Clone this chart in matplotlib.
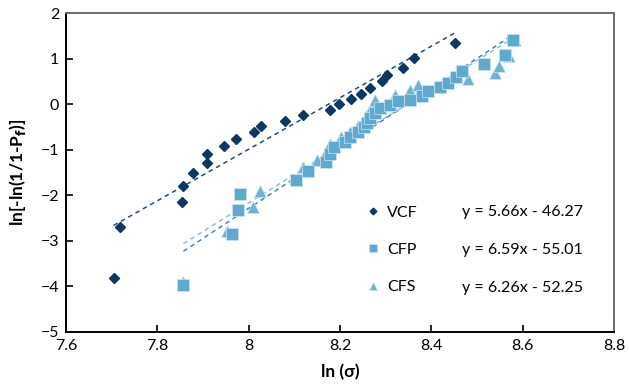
import matplotlib
matplotlib.use("Agg")
import matplotlib.pyplot as plt
import numpy as np

plt.rcParams['font.family'] = ['Lato', 'DejaVu Sans']

# ---- data ----
vcf_x = [7.704, 7.719, 7.854, 7.857, 7.879, 7.909, 7.909, 7.947, 7.972, 8.012, 8.027,
         8.080, 8.120, 8.178, 8.198, 8.224, 8.247, 8.265, 8.292, 8.302, 8.339, 8.362, 8.453]
vcf_y = [-3.82, -2.70, -2.15, -1.79, -1.52, -1.30, -1.09, -0.92, -0.76, -0.62, -0.48,
         -0.36, -0.24, -0.13, 0.00, 0.12, 0.23, 0.36, 0.50, 0.64, 0.80, 1.01, 1.35]

cfp_x = [7.857, 7.964, 7.976, 7.980, 8.104, 8.131, 8.169, 8.178, 8.187, 8.211, 8.221,
         8.240, 8.252, 8.259, 8.266, 8.277, 8.288, 8.310, 8.328, 8.354, 8.379, 8.392,
         8.419, 8.437, 8.454, 8.468, 8.516, 8.562, 8.580]
cfp_y = [-3.98, -2.86, -2.32, -1.97, -1.66, -1.46, -1.28, -1.10, -0.93, -0.82, -0.72,
         -0.60, -0.50, -0.42, -0.31, -0.20, -0.09, -0.02, 0.06, 0.09, 0.17, 0.28,
         0.37, 0.47, 0.59, 0.73, 0.88, 1.08, 1.40]

cfs_x = [7.857, 7.953, 8.010, 8.025, 8.118, 8.149, 8.169, 8.178, 8.202, 8.222, 8.240,
         8.252, 8.259, 8.265, 8.270, 8.277, 8.321, 8.354, 8.370, 8.480, 8.540, 8.549,
         8.571, 8.584]
cfs_y = [-3.90, -2.79, -2.26, -1.91, -1.39, -1.23, -1.04, -0.88, -0.73, -0.60, -0.47,
         -0.35, -0.24, -0.13, -0.03, 0.09, 0.20, 0.31, 0.42, 0.55, 0.68, 0.84,
         1.06, 1.41]

series_names = ['VCF', 'CFP', 'CFS']
slopes = [5.66, 6.59, 6.26]
intercepts = [-46.27, -55.01, -52.25]
equations = ['y = 5.66x - 46.27', 'y = 6.59x - 55.01', 'y = 6.26x - 52.25']

x_ticks = [7.6, 7.8, 8.0, 8.2, 8.4, 8.6, 8.8]
x_ticklabels = ['7.6', '7.8', '8', '8.2', '8.4', '8.6', '8.8']
y_ticks = [-5, -4, -3, -2, -1, 0, 1, 2]

# ---- style ----
c_vcf = '#0b3764'
c_cfp = '#5ea9cf'
c_cfs = '#6cb1d6'
c_tr_vcf = '#1f4e79'
c_tr_cfp = '#3f86bd'
c_tr_cfs = '#86c0e0'

fig = plt.figure(figsize=(6.29, 3.88), dpi=100)
ax = fig.add_axes([0.105, 0.145, 0.871, 0.821])

# trendlines
data = [(vcf_x, vcf_y), (cfp_x, cfp_y), (cfs_x, cfs_y)]
tr_cols = [c_tr_vcf, c_tr_cfp, c_tr_cfs]
for (xs, ys), m, b, col in zip(data, slopes, intercepts, tr_cols):
    xx = np.array([min(xs), max(xs)])
    ax.plot(xx, m * xx + b, linestyle=(0, (3, 2.5)), color=col, lw=1.1, zorder=2)

h_vcf, = ax.plot(vcf_x, vcf_y, linestyle='none', marker='D', ms=5.2, color=c_vcf,
                 mec=c_vcf, zorder=4, label='VCF')
h_cfs, = ax.plot(cfs_x, cfs_y, linestyle='none', marker='^', ms=8, color=c_cfs,
                 mec='#cfe6f2', mew=0.5, zorder=3, label='CFS')
h_cfp, = ax.plot(cfp_x, cfp_y, linestyle='none', marker='s', ms=8, color=c_cfp,
                 mec='#cfe6f2', mew=0.5, zorder=3.5, label='CFP')

ax.set_xlim(7.6, 8.8)
ax.set_ylim(-5, 2)
ax.set_xticks(x_ticks)
ax.set_xticklabels(x_ticklabels)
ax.set_yticks(y_ticks)
ax.tick_params(direction='in', length=5, width=1.2, labelsize=11.5, colors='black')
ax.tick_params(axis='x', pad=5)
ax.tick_params(axis='y', pad=5)

for s in ['left', 'bottom']:
    ax.spines[s].set_color('black')
    ax.spines[s].set_linewidth(1.4)
for s in ['top', 'right']:
    ax.spines[s].set_color('#6e6e6e')
    ax.spines[s].set_linewidth(1.4)

ax.set_xlabel('ln (σ)', fontsize=12.5, fontweight='bold', labelpad=8)
ax.set_ylabel(r'ln[-ln(1/1-P$_{\mathbf{f}}$)]', fontsize=12.5, fontweight='bold', labelpad=9)

leg_y = [0.376, 0.257, 0.137]
leg = ax.legend(handles=[h_vcf, h_cfp, h_cfs], labels=series_names, loc='center left',
                bbox_to_anchor=(0.528, leg_y[1]), frameon=False, fontsize=11.5,
                markerscale=0.65, handlelength=0.8, handletextpad=0.5, labelspacing=1.45,
                borderpad=0.2)

for eq, yy in zip(equations, leg_y):
    ax.text(0.722, yy, eq, transform=ax.transAxes, fontsize=11.5, va='center', ha='left')

fig.savefig('out.png', dpi=100)
